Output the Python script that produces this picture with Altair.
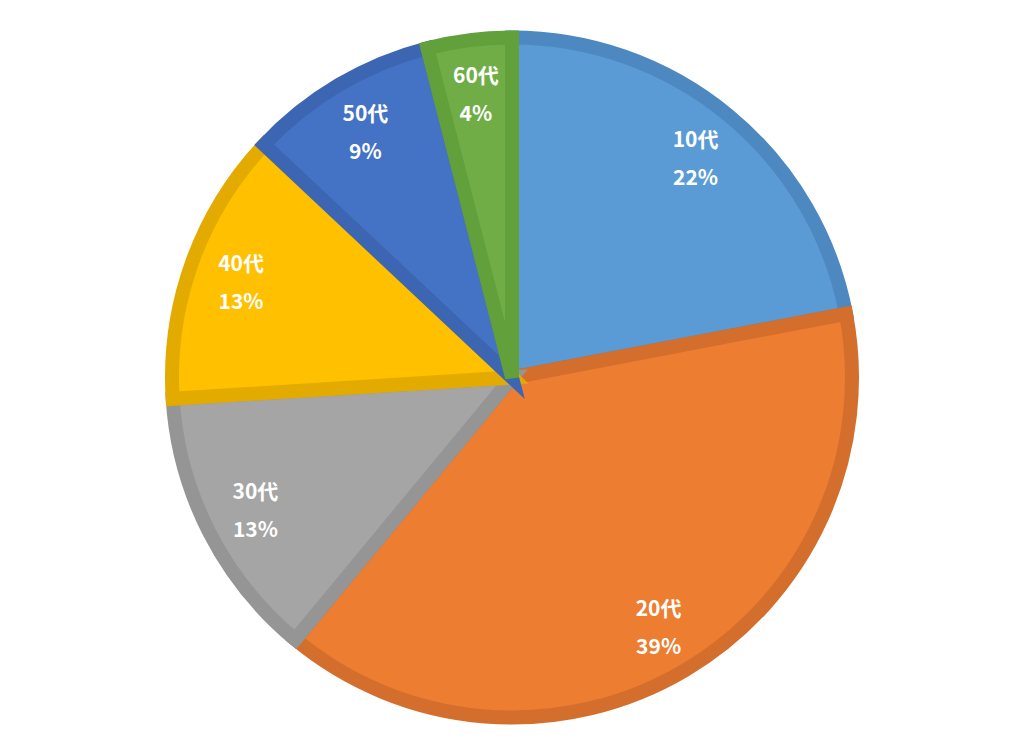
import altair as alt
import pandas as pd

categories = ["10代", "20代", "30代", "40代", "50代", "60代"]
values = [22, 39, 13, 13, 9, 4]
fill_colors = ["#5B9BD5", "#ED7D31", "#A5A5A5", "#FFC000", "#4472C4", "#70AD47"]
stroke_colors = ["#4E88C0", "#D46E2C", "#959595", "#E3AB00", "#3C66B2", "#62A03C"]

df = pd.DataFrame({
    "cat": categories,
    "val": values,
    "order": list(range(len(categories))),
})
df["pct"] = df["val"].astype(str) + "%"

base = alt.Chart(df).encode(
    theta=alt.Theta("val:Q", stack=True),
    order=alt.Order("order:Q", sort="ascending"),
)

arcs = base.mark_arc(outerRadius=340, strokeWidth=14, strokeJoin="miter").encode(
    color=alt.Color("cat:N", scale=alt.Scale(domain=categories, range=fill_colors), legend=None),
    stroke=alt.Stroke("cat:N", scale=alt.Scale(domain=categories, range=stroke_colors), legend=None),
)

text_style = dict(
    radius=288,
    color="white",
    fontSize=21,
    fontWeight="bold",
    font="Noto Sans CJK JP",
    align="center",
    baseline="middle",
)

labels_cat = base.mark_text(dy=-15, **text_style).encode(text="cat:N")
labels_pct = base.mark_text(dy=23, **text_style).encode(text="pct:N")

chart = (
    alt.layer(arcs, labels_cat, labels_pct)
    .properties(width=1008, height=739, padding=0, autosize=alt.AutoSizeParams(type="none"))
    .configure_view(stroke=None)
)

chart.save("out.html", embed_options={"renderer": "svg", "actions": False})
